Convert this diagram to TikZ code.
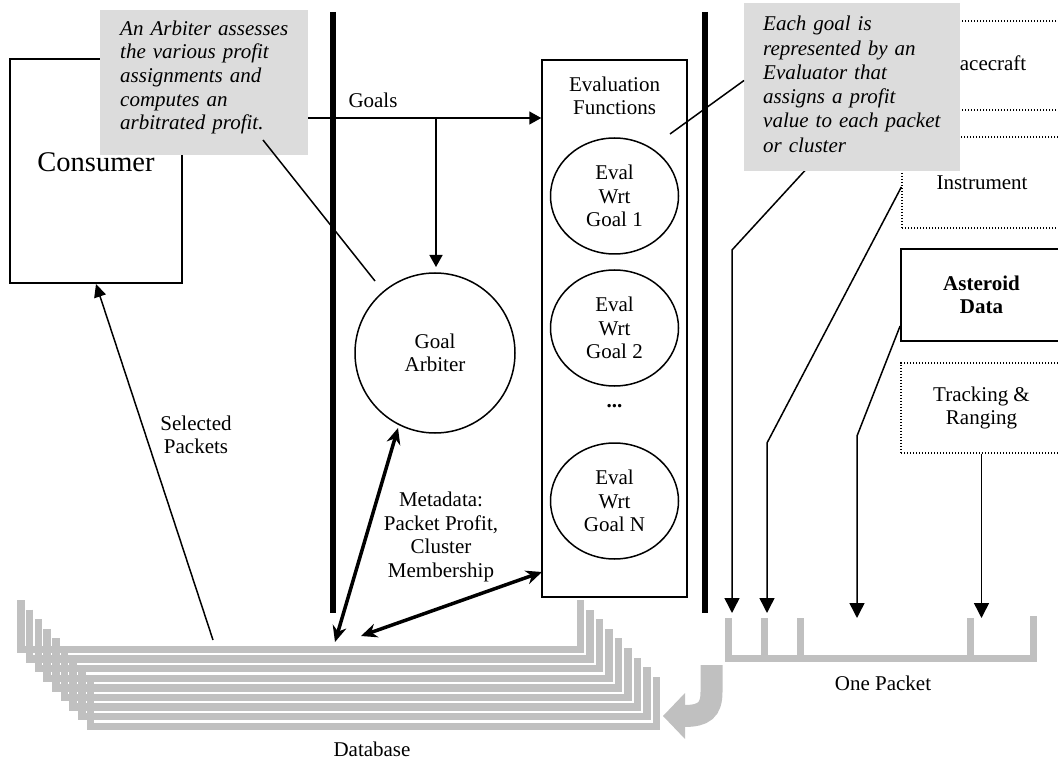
\documentclass[tikz,border=0pt]{standalone}
\usepackage{fontspec}
\setmainfont{Liberation Serif}
\usetikzlibrary{arrows.meta,shapes.geometric}
\definecolor{callgray}{RGB}{220,220,220}
\definecolor{dbgray}{RGB}{192,192,192}
\begin{document}
\begin{tikzpicture}[x=1pt,y=-1pt,
  every node/.style={font=\fontsize{21}{23.5}\selectfont, inner sep=0pt},
  thinline/.style={line width=1.5pt},
  tri/.style={-{Triangle[length=15pt,width=15pt]}},
  dbl/.style={line width=3.5pt,{Stealth[length=16pt,width=14pt]}-{Stealth[length=16pt,width=14pt]}},
  dotbox/.style={draw, line width=1.3pt, dash pattern=on 1.3pt off 1.7pt, align=center},
  solidbox/.style={draw, line width=1.8pt, align=center},
  evalcirc/.style={ellipse, draw, line width=1.5pt, minimum width=128, minimum height=116, align=center},
  callout/.style={fill=callgray, anchor=north west},
  callouttext/.style={anchor=north west, text width=205, align=left},
  dbline/.style={dbgray, line width=7.5pt, line join=miter},
  pkt/.style={dbgray, line width=7pt},
  bar/.style={line width=5.5pt}
]
\useasboundingbox (0,0) rectangle (1058,759);
\clip (0,0) rectangle (1058,759);

% database stack
\foreach \k in {0,...,8} {
  \draw[dbline] ({21+8.7*\k},{600+9.6*\k}) -- ({21+8.7*\k},{649.5+9.6*\k})
     -- ({580.5+9.5*\k},{649.5+9.6*\k}) -- ({580.5+9.5*\k},{600+9.6*\k});
}
\node (dblabel) at (372,749) {Database};

% packet
\draw[pkt] (728.5,618) -- (728.5,658.5) -- (1033,658.5) -- (1033,616);
\draw[pkt] (764,618) -- (764,658.5);
\draw[pkt] (800,618) -- (800,658.5);
\draw[pkt] (970.5,618) -- (970.5,658.5);
\node (pktlabel) at (883,683) {One Packet};

% curved gray arrow
\draw[dbgray, line width=22pt] (711.5,665) -- (711.5,692) .. controls (711.5,710) and (704,716) .. (684,716);
\fill[dbgray] (685,693) -- (663,716) -- (685,739) -- cycle;

% consumer
\node[solidbox, line width=2pt, minimum width=172, minimum height=224] (consumer) at (96,171) {};
\node[font=\fontsize{28.5}{32}\selectfont] (conslabel) at (96,162) {Consumer};

% vertical bars
\draw[bar] (333,12) -- (333,613);
\draw[bar] (705,12) -- (705,613);

% goal arbiter
\node[circle, draw, line width=1.5pt, minimum size=160, align=center] (arbiter) at (435,353) {Goal\\Arbiter};

% evaluation functions
\node[draw, line width=1.5pt, minimum width=145, minimum height=537] (evalbox) at (614.5,328.5) {};
\node[align=center] (evaltitle) at (614.5,96) {Evaluation\\Functions};
\node[evalcirc] (e1) at (614.5,196) {Eval\\Wrt\\Goal 1};
\node[evalcirc] (e2) at (614.5,328) {Eval\\Wrt\\Goal 2};
\node (edots) at (614.5,406) {\textbf{...}};
\node[evalcirc] (eN) at (614.5,501) {Eval\\Wrt\\Goal N};

% goals arrows
\coordinate (gsrc) at (182,118);
\coordinate (gbranch) at (436,118);
\coordinate (arbtop) at (436,267);
\draw[thinline, -{Triangle[length=12pt,width=13pt]}] (gsrc) -- (gsrc -| evalbox.west);
\draw[thinline, -{Triangle[length=12pt,width=13pt]}] (gbranch) -- (arbtop);
\node (goalslabel) at (373,100) {Goals};

% selected packets
\coordinate (spstart) at (213,640);
\draw[thinline, -{Triangle[length=13pt,width=12pt]}] (spstart) -- (consumer.south);
\node[align=center] (splabel) at (196,435) {Selected\\Packets};

% metadata arrows
\coordinate (dbA) at (335,642);
\coordinate (arbbot) at (398,428);
\coordinate (dbB) at (361,636);
\coordinate (evalin) at (542,572);
\draw[dbl] (dbA) -- (arbbot);
\draw[dbl] (dbB) -- (evalin);
\node[align=center] (metalabel) at (441,537) {Metadata:\\Packet Profit,\\Cluster\\Membership};

% right side sources
\node[dotbox, minimum width=160, minimum height=89] (spacecraft) at (982,65.5) {Spacecraft};
\node[dotbox, minimum width=160, minimum height=91] (instrument) at (982,182.5) {Instrument};
\node[solidbox, minimum width=161, minimum height=92, font=\fontsize{21}{23.5}\selectfont\bfseries] (asteroid) at (981.5,295) {Asteroid\\Data};
\node[dotbox, minimum width=161, minimum height=90] (tracking) at (981.5,408) {Tracking \&\\Ranging};

\coordinate (abend) at (732,250);
\coordinate (aend) at (732,613);
\coordinate (bbend) at (767,443);
\coordinate (bend) at (767,613);
\coordinate (cbend) at (857,436);
\coordinate (cend) at (857,618);
\coordinate (dend) at (981.5,618);
\draw[thinline, tri] (spacecraft.west) -- (abend) -- (aend);
\draw[thinline, tri] ([yshift=-4.5pt]instrument.west) -- (bbend) -- (bend);
\draw[thinline, tri] ([yshift=-31pt]asteroid.west) -- (cbend) -- (cend);
\draw[thinline, tri] (tracking.south) -- (dend);

% callouts
\node[callout, minimum width=208, minimum height=145] (c1) at (100,10) {};
\node[callouttext, font=\fontsize{21}{23.6}\selectfont\itshape] (c1text) at (120,20.5) {An Arbiter assesses\\the various profit\\assignments and\\computes an\\arbitrated profit.};
\coordinate (c1p) at (263,140);
\coordinate (arbp) at (375,281);
\draw[thinline] (c1p) -- (arbp);

\node[callout, minimum width=216, minimum height=168] (c2) at (744,3) {};
\node[callouttext, font=\fontsize{21}{24.3}\selectfont\itshape] (c2text) at (763,16) {Each goal is\\represented by an\\Evaluator that\\assigns a profit\\value to each packet\\or cluster};
\coordinate (c2p) at (670,134);
\coordinate (c2e) at (744,80.5);
\draw[thinline] (c2p) -- (c2e);
\end{tikzpicture}
\end{document}
